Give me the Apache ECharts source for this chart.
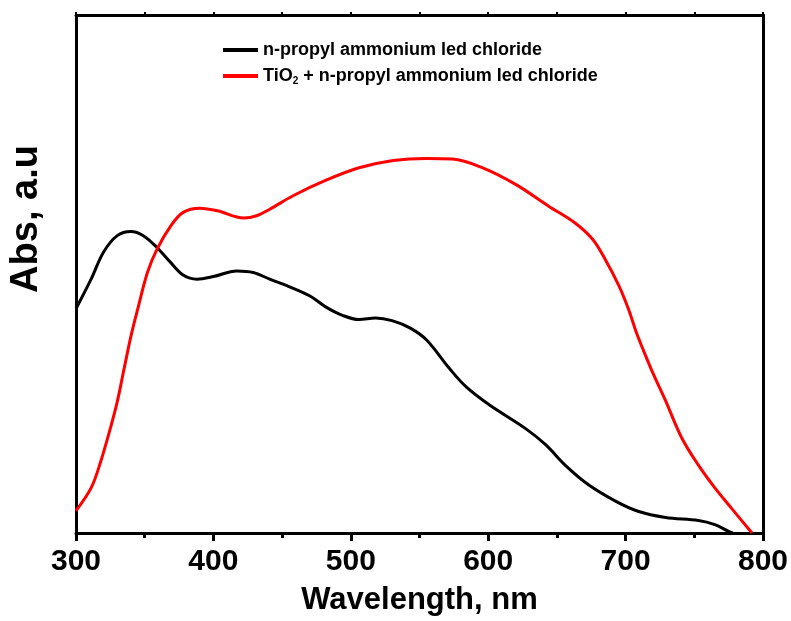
<!DOCTYPE html>
<html>
<head>
<meta charset="utf-8">
<script src="https://cdn.jsdelivr.net/npm/echarts@6/dist/echarts.min.js"></script>
<style>
  html, body { margin: 0; padding: 0; background: #fff; }
  #chart { width: 791px; height: 621px; }
</style>
</head>
<body>
<div id="chart"></div>
<script>
// wavelength (nm) and absorbance (arbitrary units, 0-100)
var blackWl = [300, 311, 320, 330, 340, 349, 359, 369, 378, 388, 400, 417, 429, 441, 453, 470, 482, 494, 506, 518, 530, 543, 555, 572, 584, 601, 627, 642, 656, 673, 693, 709, 729, 753, 765, 775, 778];
var blackAbs = [43.3, 49.0, 54.2, 57.4, 58.2, 57.4, 55.1, 52.2, 49.8, 49.0, 49.5, 50.6, 50.3, 49.0, 47.8, 45.8, 43.6, 42.0, 41.2, 41.5, 41.0, 39.6, 37.3, 31.7, 28.2, 24.7, 20.2, 17.0, 13.1, 9.3, 6.1, 4.2, 3.0, 2.4, 1.6, 0.3, 0];

var redWl = [300, 311, 318, 325, 330, 335, 340, 345, 352, 359, 369, 378, 390, 403, 422, 432, 441, 458, 482, 506, 531, 555, 574, 596, 620, 644, 663, 676, 685, 695, 702, 708, 712, 720, 729, 741, 753, 765, 777, 792];
var redAbs = [4.3, 8.7, 13.8, 20.2, 25.3, 31.7, 38.0, 43.3, 50.3, 54.8, 59.3, 61.9, 62.7, 62.2, 60.8, 61.3, 62.5, 65.1, 68.1, 70.5, 71.9, 72.3, 72.2, 70.5, 67.3, 63.1, 59.9, 56.7, 52.9, 47.8, 43.3, 38.6, 35.9, 30.8, 25.6, 18.3, 13.1, 8.7, 4.8, 0];

var nameBlack = "n-propyl ammonium led chloride";
var nameRed = "TiO2 + n-propyl ammonium led chloride";

function pairs(xs, ys) {
  var out = [];
  for (var i = 0; i < xs.length; i++) out.push([xs[i], ys[i]]);
  return out;
}

var font = 'Arial, "Liberation Sans", sans-serif';
var chart = echarts.init(document.getElementById("chart"));

chart.setOption({
  animation: false,
  backgroundColor: "#fff",
  textStyle: { fontFamily: font },
  grid: { left: 75, right: 26, top: 15, bottom: 86, containLabel: false },
  legend: {
    orient: "vertical",
    left: 218,
    top: 36,
    itemWidth: 35,
    itemHeight: 4,
    itemGap: 8,
    icon: "rect",
    data: [nameBlack, nameRed],
    formatter: function (n) {
      if (n === nameRed) return "{t|TiO}{s|2}{t| + n-propyl ammonium led chloride}";
      return "{t|" + n + "}";
    },
    textStyle: {
      fontFamily: font,
      rich: {
        t: { fontSize: 18, fontWeight: "bold", color: "#000", fontFamily: font, lineHeight: 18 },
        s: { fontSize: 10, fontWeight: "bold", color: "#000", fontFamily: font, verticalAlign: "bottom", padding: [10, 0, 0, 0] }
      }
    }
  },
  xAxis: [
    {
      type: "value",
      min: 300,
      max: 800,
      interval: 100,
      position: "bottom",
      name: "Wavelength, nm",
      nameLocation: "middle",
      nameGap: 52,
      nameTextStyle: { fontSize: 31, fontWeight: "bold", color: "#000", fontFamily: font },
      axisLine: { show: true, onZero: false, lineStyle: { color: "#000", width: 3 } },
      axisTick: { show: true, inside: false, length: 8, lineStyle: { color: "#000", width: 3 } },
      minorTick: { show: true, splitNumber: 2, length: 5, lineStyle: { color: "#000", width: 3 } },
      axisLabel: { fontSize: 30, fontWeight: "bold", color: "#000", margin: 14, fontFamily: font },
      splitLine: { show: false }
    },
    {
      type: "value",
      min: 300,
      max: 800,
      interval: 100,
      position: "top",
      axisLine: { show: true, onZero: false, lineStyle: { color: "#000", width: 3 } },
      axisTick: { show: true, inside: false, length: 3, lineStyle: { color: "#000", width: 2 } },
      minorTick: { show: true, splitNumber: 2, length: 3, lineStyle: { color: "#000", width: 2 } },
      axisLabel: { show: false },
      splitLine: { show: false }
    }
  ],
  yAxis: [
    {
      type: "value",
      min: 0,
      max: 100,
      position: "left",
      name: "Abs, a.u",
      nameLocation: "middle",
      nameGap: 30,
      nameTextStyle: { fontSize: 38, fontWeight: "bold", color: "#000", fontFamily: font, padding: [0, 0, 0, 110] },
      axisLine: { show: true, onZero: false, lineStyle: { color: "#000", width: 3 } },
      axisTick: { show: false },
      axisLabel: { show: false },
      splitLine: { show: false }
    },
    {
      type: "value",
      min: 0,
      max: 100,
      position: "right",
      axisLine: { show: true, onZero: false, lineStyle: { color: "#000", width: 3 } },
      axisTick: { show: false },
      axisLabel: { show: false },
      splitLine: { show: false }
    }
  ],
  series: [
    {
      name: nameBlack,
      type: "line",
      data: pairs(blackWl, blackAbs),
      smooth: 0.35,
      showSymbol: false,
      lineStyle: { color: "#000", width: 3 },
      itemStyle: { color: "#000" }
    },
    {
      name: nameRed,
      type: "line",
      data: pairs(redWl, redAbs),
      smooth: 0.35,
      showSymbol: false,
      lineStyle: { color: "#ff0000", width: 3 },
      itemStyle: { color: "#ff0000" }
    }
  ]
});
</script>
</body>
</html>
